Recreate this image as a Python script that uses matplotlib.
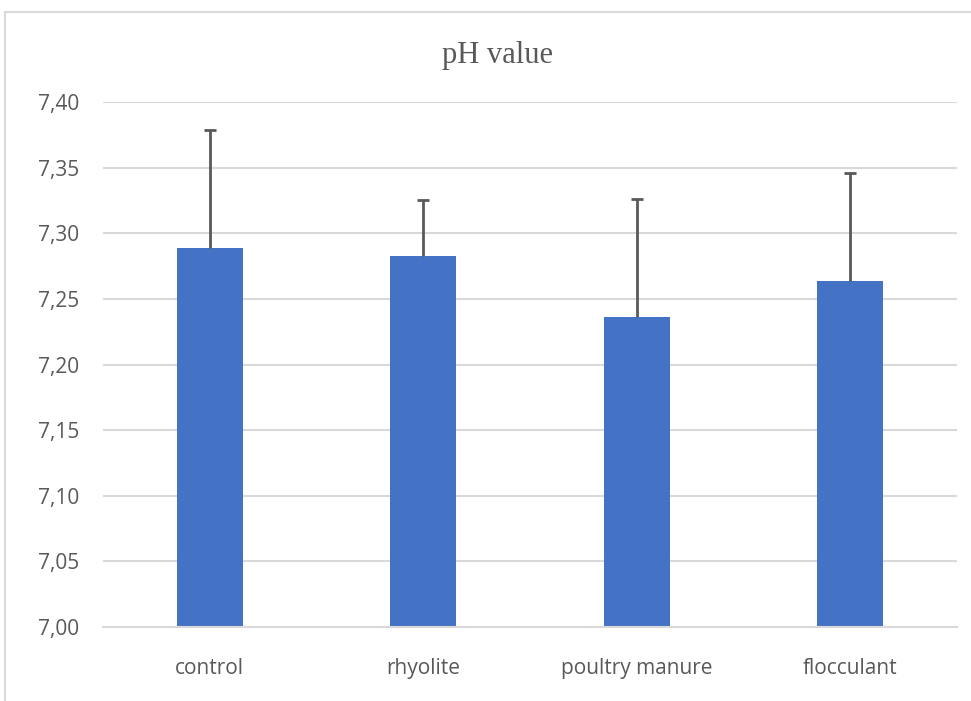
import matplotlib
matplotlib.use("Agg")
import matplotlib.pyplot as plt
from matplotlib.patches import Rectangle
import numpy as np

categories = ["control", "rhyolite", "poultry manure", "flocculant"]
values = [7.289, 7.283, 7.236, 7.264]
errors_up = [0.090, 0.042, 0.090, 0.082]
yticks = [7.00, 7.05, 7.10, 7.15, 7.20, 7.25, 7.30, 7.35, 7.40]
ytick_labels = ["7,00", "7,05", "7,10", "7,15", "7,20", "7,25", "7,30", "7,35", "7,40"]
title = "pH value"

W, H = 971, 701
fig = plt.figure(figsize=(W / 100, H / 100), dpi=100)
fig.patch.set_facecolor("white")

# outer chart border
fig.patches.append(Rectangle((5 / W, -0.01), 1.2, 1 - 12 / H + 0.01,
                             transform=fig.transFigure, fill=False,
                             edgecolor="#D9D9D9", linewidth=1.5, zorder=0))

ax = fig.add_axes([103 / W, 1 - 627 / H, (957 - 103) / W, (627 - 102) / H])
x = np.arange(len(categories))
base = 7.0
ax.bar(x, np.array(values) - base, bottom=base, width=0.31, color="#4472C4", zorder=2)
_, caps, _ = ax.errorbar(x, values, yerr=[np.zeros(len(values)), errors_up], fmt="none",
                         ecolor="#595959", elinewidth=2, capsize=4.5, capthick=2, zorder=3)
# keep only the upper cap
if len(caps) == 2:
    caps[0].set_visible(False)

ax.set_xlim(-0.5, len(categories) - 0.5)
ax.set_ylim(7.0, 7.4)
ax.set_yticks(yticks)
ax.set_yticklabels(ytick_labels)
ax.set_xticks(x)
ax.set_xticklabels(categories)
ax.grid(axis="y", color="#D9D9D9", linewidth=1.5, zorder=0)
ax.set_axisbelow(True)
for s in ["top", "right", "left"]:
    ax.spines[s].set_visible(False)
ax.spines["bottom"].set_color("#D9D9D9")
ax.spines["bottom"].set_linewidth(1.5)
ax.tick_params(axis="both", length=0, colors="#595959", labelsize=15)
ax.tick_params(axis="y", pad=17)
ax.tick_params(axis="x", pad=22)
for lab in ax.get_xticklabels() + ax.get_yticklabels():
    lab.set_fontfamily("Open Sans")
    lab.set_color("#595959")

fig.text(497 / W, 1 - 55 / H, title, ha="center", va="center",
         fontsize=22, color="#595959", fontfamily="Liberation Serif")

fig.savefig("out.png", dpi=100, facecolor="white")
